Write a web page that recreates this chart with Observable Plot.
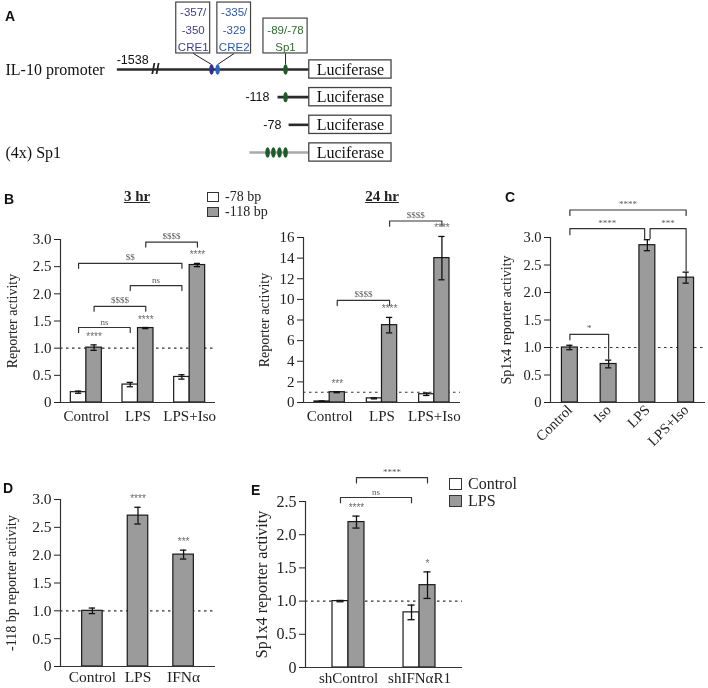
<!DOCTYPE html>
<html><head><meta charset="utf-8">
<script src="https://cdn.jsdelivr.net/npm/d3@7"></script>
<script src="https://cdn.jsdelivr.net/npm/@observablehq/plot@0.6"></script>
<style>
body{margin:0;background:#fff}
#fig{position:relative;width:708px;height:688px;overflow:hidden;background:#fff;font-family:"Liberation Serif","Times New Roman",serif;color:#222}
#fig svg{position:absolute;overflow:visible;will-change:transform}
.pl{position:absolute;font:bold 14px "Liberation Sans",Arial,sans-serif;color:#111}
.ttl{position:absolute;font:bold 15px "Liberation Serif",serif;text-decoration:underline;transform:translateX(-50%)}
.leg{position:absolute;font:14px "Liberation Serif",serif;line-height:15px;white-space:nowrap}
.leg span.sq{display:inline-block;width:10px;height:8px;border:1px solid #333;margin-right:6px;vertical-align:-1px}
</style></head>
<body><div id="fig"></div>
<script>
// ================= DATA =================
// Panel A: promoter constructs (positions in bp)
const constructNames = ["IL-10 promoter", "", "", "(4x) Sp1"];
const constructStartLabels = ["-1538", "-118", "-78", ""];
const constructStartBp = [-1538, -118, -78, null];
const creSites = [-357, -335];
const creLabels = [["-357/", "-350", "CRE1"], ["-335/", "-329", "CRE2"]];
const sp1Site = -89;
const sp1Label = ["-89/-78", "Sp1"];
const reporterName = "Luciferase";

// Panel B
const groupsB = ["Control", "LPS", "LPS+Iso"];
const seriesB = ["-78 bp", "-118 bp"];
const b3hr78 = [0.19, 0.33, 0.47];
const b3hr78Err = [0.02, 0.04, 0.04];
const b3hr118 = [1.01, 1.37, 2.53];
const b3hr118Err = [0.05, 0.01, 0.03];
const b3hr118Stars = ["****", "****", "****"];
const b24hr78 = [0.10, 0.40, 0.80];
const b24hr78Err = [0.05, 0.05, 0.12];
const b24hr118 = [1.0, 7.5, 14.0];
const b24hr118Err = [0.05, 0.75, 2.1];
const b24hr118Stars = ["***", "****", "****"];

// Panel C
const groupsC = ["Control", "Iso", "LPS", "LPS+Iso"];
const valuesC = [1.0, 0.70, 2.86, 2.27];
const errsC = [0.04, 0.07, 0.10, 0.10];

// Panel D
const groupsD = ["Control", "LPS", "IFNα"];
const valuesD = [1.0, 2.71, 2.01];
const errsD = [0.05, 0.15, 0.08];
const starsD = ["", "****", "***"];

// Panel E
const groupsE = ["shControl", "shIFNαR1"];
const seriesE = ["Control", "LPS"];
const eControl = [1.0, 0.83];
const eControlErr = [0.01, 0.11];
const eLPS = [2.19, 1.24];
const eLPSErr = [0.09, 0.20];
const eLPSStars = ["****", "*"];

// y tick values
const ticks3 = [0, 0.5, 1, 1.5, 2, 2.5, 3];
const ticks16 = [0, 2, 4, 6, 8, 10, 12, 14, 16];
const ticks25 = [0, 0.5, 1, 1.5, 2, 2.5];

// ================= LAYOUT / DRAWING =================
const fig = document.getElementById("fig");
const WHITE = "#ffffff", GRAY = "#9b9b9b";
const SERIF = "Liberation Serif, Times New Roman, serif";
const SANS = "Liberation Sans, Arial, sans-serif";

function place(svg, left, top) {
  svg.style.left = left + "px"; svg.style.top = top + "px";
  fig.appendChild(svg);
}
function html(cls, left, top, inner) {
  const d = document.createElement("div");
  d.className = cls; d.style.left = left + "px"; d.style.top = top + "px";
  d.innerHTML = inner; fig.appendChild(d); return d;
}

// ---------- Panel A ----------
(function () {
  const k = 0.5523;
  const ellipse = {draw(ctx) {
    const a = 2.3, b = 5.2;
    ctx.moveTo(0, -b);
    ctx.bezierCurveTo(k * a, -b, a, -k * b, a, 0);
    ctx.bezierCurveTo(a, k * b, k * a, b, 0, b);
    ctx.bezierCurveTo(-k * a, b, -a, k * b, -a, 0);
    ctx.bezierCurveTo(-a, -k * b, -k * a, -b, 0, -b);
    ctx.closePath();
  }};
  const drawnStart = [-700, -118, -78, -220];
  const lines = constructNames.map((n, r) => ({r, x1: drawnStart[r], x2: 0, c: r === 3 ? "#aaaaaa" : "#2a2a2a"}));
  const sites = [
    {r: 0, x: creSites[0], c: "#2e2f8a"}, {r: 0, x: creSites[1], c: "#2a62cc"},
    {r: 0, x: sp1Site, c: "#1d5c2a"}, {r: 1, x: sp1Site, c: "#1d5c2a"},
    ...[-154, -133, -111, sp1Site].map(x => ({r: 3, x, c: "#1d5c2a"}))
  ];
  const boxes = [
    {x1: creSites[0] - 128, x2: creSites[0] - 5, y1: -2.42, y2: -0.58, lines: creLabels[0], c: "#3c3c8c", site: creSites[0]},
    {x1: creSites[1] - 1, x2: creSites[1] + 121, y1: -2.42, y2: -0.58, lines: creLabels[1], c: "#2b58a6", site: creSites[1]},
    {x1: sp1Site - 80, x2: sp1Site + 80, y1: -1.84, y2: -0.58, lines: sp1Label, c: "#2e6b30", site: sp1Site}
  ];
  const boxTexts = boxes.flatMap(b => b.lines.map((t, i) => ({
    x: (b.x1 + b.x2) / 2, y: b.y2 - 0.22 - (b.lines.length - 1 - i) * 0.63, t, c: b.c})));
  const links = boxes.map(b => ({x1: (b.x1 + b.x2) / 2, y1: b.y2, x2: b.site, y2: -0.18}));
  const lucs = constructNames.map((n, r) => ({r}));
  const startLbl = constructStartLabels.map((t, r) => ({r, t})).filter(d => d.t);
  const svg = Plot.plot({
    width: 400, height: 175, marginLeft: 0, marginRight: 0, marginTop: 0, marginBottom: 0,
    x: {type: "linear", domain: [-700, 300], range: [116.4, 392.4], axis: null},
    y: {type: "linear", domain: [0, 3], range: [69, 152], axis: null},
    color: {type: "identity"},
    style: {fontFamily: SERIF, background: "transparent", overflow: "visible"},
    marks: [
      Plot.link(lines, {x1: "x1", x2: "x2", y1: "r", y2: "r", stroke: "c", strokeWidth: 2.6}),
      Plot.text(["//"], {x: -560, y: 0, text: d => d, fontSize: 15, fontFamily: SANS, fill: "#222", fontWeight: "bold"}),
      Plot.link(links, {x1: "x1", y1: "y1", x2: "x2", y2: "y2", stroke: "#222", strokeWidth: 1}),
      Plot.rect(boxes, {x1: "x1", x2: "x2", y1: "y1", y2: "y2", fill: "white", stroke: "#444", strokeWidth: 1.2}),
      Plot.text(boxTexts, {x: "x", y: "y", text: "t", fill: "c", fontSize: 11.5, fontFamily: SANS}),
      Plot.dot(sites, {x: "x", y: "r", fill: "c", symbol: ellipse, r: 5}),
      Plot.rect(lucs, {x1: -3, x2: 295, y1: d => d.r - 0.33, y2: d => d.r + 0.33, fill: "white", stroke: "#444", strokeWidth: 1.3}),
      Plot.text(lucs, {x: 146, y: "r", text: () => reporterName, fontSize: 16, fill: "#111", fontFamily: SERIF}),
      Plot.text(constructNames.map((t, r) => ({t, r})).filter(d => d.t), {y: "r", text: "t", frameAnchor: "left", textAnchor: "start", dx: 5, fontSize: 16, fill: "#111", fontFamily: SERIF}),
      Plot.text(startLbl.filter(d => d.r === 0), {x: -643, y: d => d.r - 0.36, text: "t", fontSize: 12.5, fontFamily: SANS, fill: "#111"}),
      Plot.text(startLbl.filter(d => d.r > 0), {x: d => d.r === 1 ? -147 : -104, y: "r", text: "t", textAnchor: "end", fontSize: 12.5, fontFamily: SANS, fill: "#111"})
    ]
  });
  place(svg, 0, 0);
})();

// ---------- Generic bar panel ----------
function barPanel(o) {
  const nS = o.series.length;
  const rows = [];
  o.groups.forEach((g, i) => o.series.forEach((s, j) => {
    const x1 = i + (j - nS / 2) * o.w;
    rows.push({i, j, x1, x2: x1 + o.w, xc: x1 + o.w / 2, v: s.values[i], e: s.errs[i],
      star: (s.stars || [])[i] || "", fill: s.fill});
  }));
  const pos = ([i, j, n = 0]) => i + (j - nS / 2) * o.w + o.w / 2 + n;
  const brPts = [], brLbl = [];
  (o.brackets || []).forEach((b, k) => {
    const xa = pos(b.a), xb = pos(b.b);
    const ya = b.ya ?? b.y - o.drop, yb = b.yb ?? b.y - o.drop;
    brPts.push({k, x: xa, y: ya}, {k, x: xa, y: b.y}, {k, x: xb, y: b.y}, {k, x: xb, y: yb});
    brLbl.push({x: (xa + xb) / 2, y: b.y, t: b.label});
  });
  const caps = rows.flatMap(d => [{...d, yy: d.v - d.e}, {...d, yy: d.v + d.e}]);
  const svg = Plot.plot({
    width: o.width, height: o.height,
    marginLeft: o.ml, marginRight: o.mr, marginTop: o.mt, marginBottom: o.mb,
    x: {type: "linear", domain: o.xDomain},
    y: {type: "linear", domain: o.yDomain},
    color: {type: "identity"},
    style: {fontFamily: SERIF, fontSize: o.fs + "px", background: "transparent", color: "#222", overflow: "visible"},
    marks: [
      Plot.ruleY([1], {stroke: "#333", strokeDasharray: "2.5,3.5", strokeWidth: 1.1}),
      Plot.rect(rows, {x1: "x1", x2: "x2", y1: 0, y2: "v", fill: "fill", stroke: "#1a1a1a", strokeWidth: 1.2}),
      Plot.ruleX(rows, {x: "xc", y1: d => d.v - d.e, y2: d => d.v + d.e, stroke: "#111", strokeWidth: 1.3}),
      Plot.ruleY(caps, {y: "yy", x1: d => d.xc - o.cap, x2: d => d.xc + o.cap, stroke: "#111", strokeWidth: 1.3}),
      Plot.text(rows.filter(d => d.star), {x: "xc", y: d => d.v + d.e, text: "star", dy: -5, lineAnchor: "bottom", fontSize: 10, fill: "#6a6a6a", fontFamily: SANS}),
      Plot.line(brPts, {x: "x", y: "y", z: "k", stroke: "#333", strokeWidth: 1.2}),
      Plot.text(brLbl, {x: "x", y: "y", text: "t", dy: -3, lineAnchor: "bottom", fontSize: 9, fill: "#5a5a5a", fontFamily: SERIF}),
      Plot.ruleY([0], {stroke: "#333", strokeWidth: 1.2}),
      Plot.ruleX([o.xDomain[0]], {y1: 0, y2: o.yDomain[1], stroke: "#333", strokeWidth: 1.2}),
      Plot.axisY({ticks: o.yTicks, tickFormat: o.yFormat, tickSize: 6, tickPadding: 3, fontSize: o.fs,
        label: o.yLabel, labelAnchor: "center", labelArrow: "none", labelOffset: o.lo}),
      Plot.axisX({ticks: o.groups.map((g, i) => i), tickFormat: i => o.groups[i], tickSize: 0,
        tickPadding: o.tp ?? 8, fontSize: o.xfs ?? o.fs, label: null, tickRotate: o.rot ?? 0})
    ]
  });
  if (o.labelFs) svg.querySelectorAll("g[aria-label='y-axis label']").forEach(e => e.setAttribute("font-size", o.labelFs));
  return svg;
}
const fmt1 = d => d === 0 ? "0" : d.toFixed(1);

// ---------- Panel B, 3 hr ----------
place(barPanel({
  width: 230, height: 220, ml: 60, mr: 15, mt: 14, mb: 43, fs: 15, lo: 53, labelFs: 14,
  xDomain: [-0.5, 2.5], yDomain: [0, 3], yTicks: ticks3, yFormat: fmt1, w: 0.3, cap: 0.06, drop: 0.09,
  yLabel: "Reporter activity", groups: groupsB,
  series: [
    {values: b3hr78, errs: b3hr78Err, fill: WHITE},
    {values: b3hr118, errs: b3hr118Err, stars: b3hr118Stars, fill: GRAY}
  ],
  brackets: [
    {a: [0, 0], b: [1, 0], y: 1.38, label: "ns"},
    {a: [0, 1], b: [1, 1], y: 1.77, label: "$$$$"},
    {a: [1, 0], b: [2, 0], y: 2.15, label: "ns"},
    {a: [0, 0], b: [2, 0], y: 2.56, label: "$$"},
    {a: [1, 1], b: [2, 1], y: 2.95, label: "$$$$"}
  ]
}), 0, 225);

// ---------- Panel B, 24 hr ----------
place(barPanel({
  width: 230, height: 250, ml: 63, mr: 10, mt: 42, mb: 43, fs: 15, lo: 44, labelFs: 14,
  xDomain: [-0.5, 2.5], yDomain: [0, 16], yTicks: ticks16, yFormat: d3.format("d"), w: 0.29, cap: 0.06, drop: 0.5,
  yLabel: "Reporter activity", groups: groupsB,
  series: [
    {values: b24hr78, errs: b24hr78Err, fill: WHITE},
    {values: b24hr118, errs: b24hr118Err, stars: b24hr118Stars, fill: GRAY}
  ],
  brackets: [
    {a: [0, 1], b: [1, 1], y: 9.9, label: "$$$$"},
    {a: [1, 1], b: [2, 1], y: 17.6, label: "$$$$"}
  ]
}), 240, 195);

// ---------- Panel C ----------
place(barPanel({
  width: 238, height: 270, ml: 80, mr: 3, mt: 42, mb: 63, fs: 14.5, lo: 49, labelFs: 14,
  xDomain: [-0.5, 3.5], yDomain: [0, 3], yTicks: ticks3, yFormat: fmt1, w: 0.41, cap: 0.08, drop: 0.1,
  yLabel: "Sp1x4 reporter activity", groups: groupsC, rot: -45, tp: 5,
  series: [{values: valuesC, errs: errsC, fill: GRAY}],
  brackets: [
    {a: [0, 0], b: [1, 0], y: 1.24, ya: 1.14, yb: 0.8, label: "*"},
    {a: [0, 0], b: [2, 0, -0.07], y: 3.16, ya: 3.05, yb: 2.98, label: "****"},
    {a: [2, 0, 0.07], b: [3, 0], y: 3.16, ya: 2.98, yb: 2.4, label: "***"},
    {a: [0, 0], b: [3, 0], y: 3.5, label: "****"}
  ]
}), 470, 195);

// ---------- Panel D ----------
place(barPanel({
  width: 230, height: 208, ml: 60, mr: 15, mt: 19, mb: 22, fs: 15.5, lo: 54, labelFs: 14,
  xDomain: [-0.7, 2.7], yDomain: [0, 3], yTicks: ticks3, yFormat: fmt1, w: 0.45, cap: 0.07, drop: 0.1,
  yLabel: "-118 bp reporter activity", groups: groupsD, tp: 4,
  series: [{values: valuesD, errs: errsD, stars: starsD, fill: GRAY}]
}), 0, 480);

// ---------- Panel E ----------
place(barPanel({
  width: 230, height: 228, ml: 55, mr: 18, mt: 41, mb: 21, fs: 16, xfs: 15, lo: 50, labelFs: 16,
  xDomain: [-0.605, 1.605], yDomain: [0, 2.5], yTicks: ticks25, yFormat: fmt1, w: 0.225, cap: 0.05, drop: 0.08,
  yLabel: "Sp1x4 reporter activity", groups: groupsE, tp: 5,
  series: [
    {values: eControl, errs: eControlErr, fill: WHITE},
    {values: eLPS, errs: eLPSErr, stars: eLPSStars, fill: GRAY}
  ],
  brackets: [
    {a: [0, 0], b: [1, 0], y: 2.56, label: "ns"},
    {a: [0, 1], b: [1, 1], y: 2.86, label: "****"}
  ]
}), 250, 460);

// ---------- Titles, legends, panel letters ----------
html("pl", 5, 8, "A");
html("pl", 4, 191, "B");
html("pl", 505, 189, "C");
html("pl", 3, 480, "D");
html("pl", 251, 482, "E");
html("ttl", 137, 188, "3 hr");
html("ttl", 382, 188, "24 hr");
html("leg", 207, 189, `<span class="sq" style="background:${WHITE}"></span>${seriesB[0]}<br><span class="sq" style="background:${GRAY}"></span>${seriesB[1]}`);
const le = html("leg", 449, 475, `<span class="sq" style="background:${WHITE};width:11px;height:10px"></span>${seriesE[0]}<br><span class="sq" style="background:${GRAY};width:11px;height:10px"></span>${seriesE[1]}`);
le.style.fontSize = "16px"; le.style.lineHeight = "17px";
</script>
</body></html>
